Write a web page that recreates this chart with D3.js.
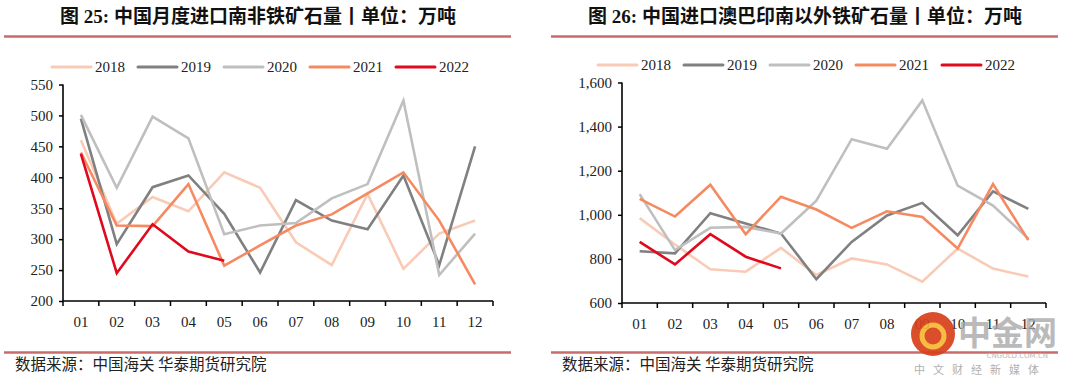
<!DOCTYPE html>
<html><head><meta charset="utf-8">
<script src="https://cdn.jsdelivr.net/npm/d3@7"></script>
<style>body{margin:0;background:#fff}svg{display:block}</style>
</head><body>
<script>
const months = ["01","02","03","04","05","06","07","08","09","10","11","12"];
const years = ["2018","2019","2020","2021","2022"];
const colors = ["#F9CBB6","#808080","#BFBFBF","#F58A62","#E00A1E"];

// Chart 25: South Africa
const sa2018 = [460,325,368,345,408,383,295,258,373,252,309,330];
const sa2019 = [495,292,384,403,341,246,363,330,316,403,258,450];
const sa2020 = [501,383,498,463,308,322,326,366,389,524,242,309];
const sa2021 = [440,322,321,389,257,290,322,340,374,408,330,227];
const sa2022 = [438,245,324,280,265];
const saTicks = [200,250,300,350,400,450,500,550];

// Chart 26: other than AU/BR/IN/ZA
const ot2018 = [985,865,753,742,850,727,802,775,697,847,756,720];
const ot2019 = [835,825,1007,960,915,708,877,997,1054,907,1106,1027];
const ot2020 = [1094,840,941,945,915,1064,1343,1299,1519,1132,1042,892];
const ot2021 = [1072,992,1136,912,1082,1024,941,1016,990,847,1139,885];
const ot2022 = [877,775,912,810,757];
const otTicks = [600,800,1000,1200,1400,1600];

const W = 1080, H = 386;
const svg = d3.select("body").append("svg").attr("width", W).attr("height", H);
const serif = "'Liberation Serif','Times New Roman','Noto Sans CJK SC',serif";
const cjk = "'Noto Sans CJK SC','Liberation Serif',sans-serif";
const titleFont = "'Liberation Serif','Noto Sans CJK SC',serif";

function panel(cfg) {
  const g = svg.append("g");
  g.append("text").attr("x", cfg.titleX).attr("y", 23)
    .attr("text-anchor", "middle").attr("font-family", titleFont)
    .attr("font-weight", "bold").attr("font-size", 19).attr("fill", "#111")
    .text(cfg.title);
  [36.5, 352.5].forEach(yy => g.append("line").attr("x1", cfg.ruleX1).attr("x2", cfg.ruleX2)
    .attr("y1", yy).attr("y2", yy).attr("stroke", "#C96B6B").attr("stroke-width", 2.5));
  g.append("text").attr("x", cfg.ruleX1 + 11).attr("y", 370)
    .attr("font-family", cjk).attr("font-size", 15.5).attr("fill", "#222")
    .text("数据来源：中国海关 华泰期货研究院");

  const x = d3.scaleBand().domain(months).range([cfg.x0, cfg.x1]);
  const y = d3.scaleLinear().domain(cfg.domain).range([cfg.y0, cfg.y1]);

  const line = d3.line().x((d, i) => x(months[i]) + x.bandwidth() / 2).y(d => y(d));
  cfg.series.forEach((s, i) => {
    g.append("path").attr("d", line(s)).attr("fill", "none")
      .attr("stroke", colors[i]).attr("stroke-width", 2.6).attr("stroke-linejoin", "miter");
  });

  const ya = g.append("g").attr("transform", `translate(${cfg.x0},0)`)
    .call(d3.axisLeft(y).tickValues(cfg.ticks).tickSize(4).tickPadding(6).tickFormat(d3.format(",")));
  const xa = g.append("g").attr("transform", `translate(0,${cfg.y0})`)
    .call(d3.axisBottom(x).tickSize(5).tickPadding(10));
  xa.selectAll(".tick line").attr("transform", `translate(${-x.bandwidth()/2},0)`);
  xa.append("line").attr("x1", cfg.x1).attr("x2", cfg.x1).attr("y1", 0).attr("y2", 5).attr("stroke", "#000").attr("stroke-width", 1.5);
  [ya, xa].forEach(a => {
    a.select(".domain").attr("stroke", "#000").attr("stroke-width", 1.6);
    a.selectAll(".tick line").attr("stroke", "#000").attr("stroke-width", 1.5);
    a.selectAll("text").attr("font-family", serif).attr("font-size", 15).attr("fill", "#222");
  });
  ya.select(".domain").attr("d", `M0,${cfg.y0}V${cfg.y1}`);
  xa.select(".domain").attr("d", `M${cfg.x0},0H${cfg.x1}`);

  years.forEach((yr, i) => {
    const lx = cfg.legX + i * cfg.legStep;
    g.append("line").attr("x1", lx).attr("x2", lx + 39).attr("y1", cfg.legY).attr("y2", cfg.legY)
      .attr("stroke", colors[i]).attr("stroke-width", 3).attr("stroke-linecap", "round");
    g.append("text").attr("x", lx + 43).attr("y", cfg.legY + 5)
      .attr("font-family", serif).attr("font-size", 15).attr("fill", "#222").text(yr);
  });
}

panel({
  title: "图 25: 中国月度进口南非铁矿石量丨单位：万吨", titleX: 258,
  ruleX1: 4, ruleX2: 511,
  x0: 63, x1: 493, y0: 301, y1: 84.5, domain: [200, 550], ticks: saTicks,
  series: [sa2018, sa2019, sa2020, sa2021, sa2022],
  legX: 52, legStep: 86, legY: 67
});
panel({
  title: "图 26: 中国进口澳巴印南以外铁矿石量丨单位：万吨", titleX: 805,
  ruleX1: 551, ruleX2: 1058,
  x0: 622, x1: 1046, y0: 303, y1: 82.5, domain: [600, 1600], ticks: otTicks,
  series: [ot2018, ot2019, ot2020, ot2021, ot2022],
  legX: 598, legStep: 86, legY: 65
});

// watermark
const wm = svg.append("g").attr("opacity", 0.92);
wm.append("circle").attr("cx", 933).attr("cy", 334).attr("r", 22).attr("fill", "#D9401A");
wm.append("circle").attr("cx", 933).attr("cy", 336).attr("r", 11).attr("fill", "none").attr("stroke", "#F7B733").attr("stroke-width", 5);
wm.append("text").attr("x", 958).attr("y", 345).attr("font-family", cjk).attr("font-weight", "bold")
  .attr("font-size", 33).attr("fill", "#A9A9A9").attr("opacity", 0.85).text("中金网");
wm.append("text").attr("x", 1048).attr("y", 358).attr("text-anchor", "end").attr("font-family", "'DejaVu Sans',sans-serif")
  .attr("font-size", 7).attr("fill", "#B5B5B5").text("CNGOLD.COM.CN");
wm.append("text").attr("x", 914).attr("y", 374).attr("font-family", cjk)
  .attr("font-size", 11).attr("letter-spacing", 8).attr("fill", "#AAAAAA").text("中文财经新媒体");
</script>
</body></html>
